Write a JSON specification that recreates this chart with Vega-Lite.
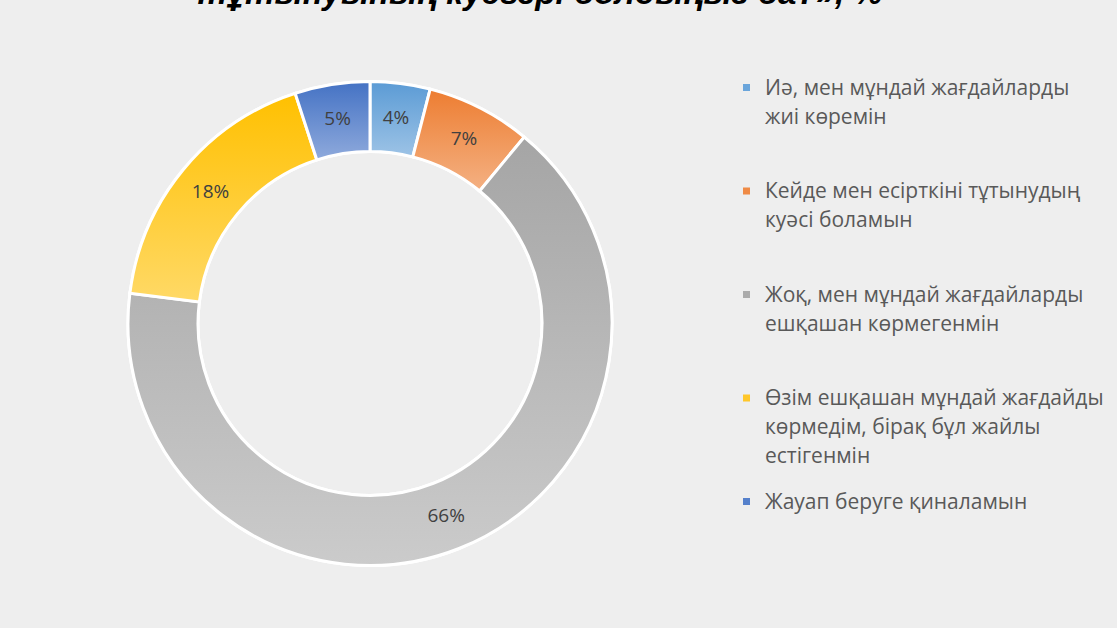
{
  "$schema": "https://vega.github.io/schema/vega-lite/v6.json",
  "width": 730,
  "height": 609,
  "padding": {"left": 5, "top": 19, "right": 382, "bottom": 0},
  "autosize": {"type": "none"},
  "background": "#eeeeee",
  "config": {"view": {"stroke": null, "fill": "#eeeeee"}, "style": {"guide-label": {"lineHeight": 29, "dy": -10}}},
  "title": {
    "text": "тұтынуының куәгері болдыңыз ба?», %",
    "font": "Liberation Sans",
    "fontSize": 33,
    "fontStyle": "italic",
    "fontWeight": "bold",
    "color": "#000000",
    "anchor": "middle",
    "frame": "group",
    "dx": 170,
    "dy": 29,
    "baseline": "alphabetic",
    "offset": 11
  },
  "data": {
    "values": [
      {"category": "Иә, мен мұндай жағдайларды жиі көремін", "value": 4, "order": 1, "pct": "4%"},
      {"category": "Кейде мен есірткіні тұтынудың куәсі боламын", "value": 7, "order": 2, "pct": "7%"},
      {"category": "Жоқ, мен мұндай жағдайларды ешқашан көрмегенмін", "value": 66, "order": 3, "pct": "66%"},
      {"category": "Өзім ешқашан мұндай жағдайды көрмедім, бірақ бұл жайлы естігенмін", "value": 18, "order": 4, "pct": "18%"},
      {"category": "Жауап беруге қиналамын", "value": 5, "order": 5, "pct": "5%"}
    ]
  },
  "transform": [
    {"stack": "value", "groupby": [], "sort": [{"field": "order", "order": "ascending"}], "as": ["start", "end"]}
  ],
  "layer": [
    {
      "mark": {"type": "arc", "radius": 242, "radius2": 172, "stroke": "#ffffff", "strokeWidth": 3},
      "encoding": {
        "theta": {"field": "start", "type": "quantitative", "scale": {"domain": [0, 100]}},
        "theta2": {"field": "end"},
        "color": {
          "field": "category",
          "type": "nominal",
          "sort": [
            "Иә, мен мұндай жағдайларды жиі көремін",
            "Кейде мен есірткіні тұтынудың куәсі боламын",
            "Жоқ, мен мұндай жағдайларды ешқашан көрмегенмін",
            "Өзім ешқашан мұндай жағдайды көрмедім, бірақ бұл жайлы естігенмін",
            "Жауап беруге қиналамын"
          ],
          "scale": {
            "domain": [
              "Иә, мен мұндай жағдайларды жиі көремін",
              "Кейде мен есірткіні тұтынудың куәсі боламын",
              "Жоқ, мен мұндай жағдайларды ешқашан көрмегенмін",
              "Өзім ешқашан мұндай жағдайды көрмедім, бірақ бұл жайлы естігенмін",
              "Жауап беруге қиналамын"
            ],
            "range": ["#6aa5db", "#ef8a45", "#ababab", "#ffc72a", "#5580cb"]
          },
          "legend": {
            "orient": "none",
            "legendX": 731,
            "legendY": 58,
            "title": null,
            "padding": 0,
            "symbolType": "square",
            "symbolSize": 49,
            "symbolStrokeWidth": 0,
            "labelFont": "Open Sans",
            "labelFontSize": 21,
            "labelColor": "#595959",
            "labelOffset": 8,
            "labelLimit": 400,
            "labelBaseline": "top",
            "rowPadding": 23.5,
            "labelExpr": "datum.value == 'Иә, мен мұндай жағдайларды жиі көремін' ? ['Иә, мен мұндай жағдайларды', 'жиі көремін', ''] : datum.value == 'Кейде мен есірткіні тұтынудың куәсі боламын' ? ['Кейде мен есірткіні тұтынудың', 'куәсі боламын', ''] : datum.value == 'Жоқ, мен мұндай жағдайларды ешқашан көрмегенмін' ? ['Жоқ, мен мұндай жағдайларды', 'ешқашан көрмегенмін', ''] : datum.value == 'Өзім ешқашан мұндай жағдайды көрмедім, бірақ бұл жайлы естігенмін' ? ['Өзім ешқашан мұндай жағдайды', 'көрмедім, бірақ бұл жайлы', 'естігенмін'] : datum.label"
          }
        }
      }
    },
    {
      "transform": [{"filter": "datum.order == 1"}],
      "mark": {"type": "arc", "radius": 242, "radius2": 172, "stroke": "#ffffff", "strokeWidth": 3,
        "fill": {"gradient": "linear", "x1": 0, "y1": 0, "x2": 0, "y2": 1, "stops": [{"offset": 0, "color": "#5b9bd5"}, {"offset": 1, "color": "#9dc3e6"}]}},
      "encoding": {"theta": {"field": "start", "type": "quantitative"}, "theta2": {"field": "end"}}
    },
    {
      "transform": [{"filter": "datum.order == 2"}],
      "mark": {"type": "arc", "radius": 242, "radius2": 172, "stroke": "#ffffff", "strokeWidth": 3,
        "fill": {"gradient": "linear", "x1": 0, "y1": 0, "x2": 0, "y2": 1, "stops": [{"offset": 0, "color": "#ed7d31"}, {"offset": 1, "color": "#f4b183"}]}},
      "encoding": {"theta": {"field": "start", "type": "quantitative"}, "theta2": {"field": "end"}}
    },
    {
      "transform": [{"filter": "datum.order == 3"}],
      "mark": {"type": "arc", "radius": 242, "radius2": 172, "stroke": "#ffffff", "strokeWidth": 3,
        "fill": {"gradient": "linear", "x1": 0, "y1": 0, "x2": 0, "y2": 1, "stops": [{"offset": 0, "color": "#a5a5a5"}, {"offset": 1, "color": "#cbcbcb"}]}},
      "encoding": {"theta": {"field": "start", "type": "quantitative"}, "theta2": {"field": "end"}}
    },
    {
      "transform": [{"filter": "datum.order == 4"}],
      "mark": {"type": "arc", "radius": 242, "radius2": 172, "stroke": "#ffffff", "strokeWidth": 3,
        "fill": {"gradient": "linear", "x1": 0, "y1": 0, "x2": 0, "y2": 1, "stops": [{"offset": 0, "color": "#ffc000"}, {"offset": 1, "color": "#ffd966"}]}},
      "encoding": {"theta": {"field": "start", "type": "quantitative"}, "theta2": {"field": "end"}}
    },
    {
      "transform": [{"filter": "datum.order == 5"}],
      "mark": {"type": "arc", "radius": 242, "radius2": 172, "stroke": "#ffffff", "strokeWidth": 3,
        "fill": {"gradient": "linear", "x1": 0, "y1": 0, "x2": 0, "y2": 1, "stops": [{"offset": 0, "color": "#4472c4"}, {"offset": 1, "color": "#8faadc"}]}},
      "encoding": {"theta": {"field": "start", "type": "quantitative"}, "theta2": {"field": "end"}}
    },
    {
      "mark": {"type": "text", "radius": 207, "font": "Open Sans", "fontSize": 19, "color": "#404040"},
      "encoding": {
        "theta": {"field": "value", "type": "quantitative", "stack": true},
        "order": {"field": "order", "type": "quantitative"},
        "text": {"field": "pct", "type": "nominal"}
      }
    }
  ]
}
